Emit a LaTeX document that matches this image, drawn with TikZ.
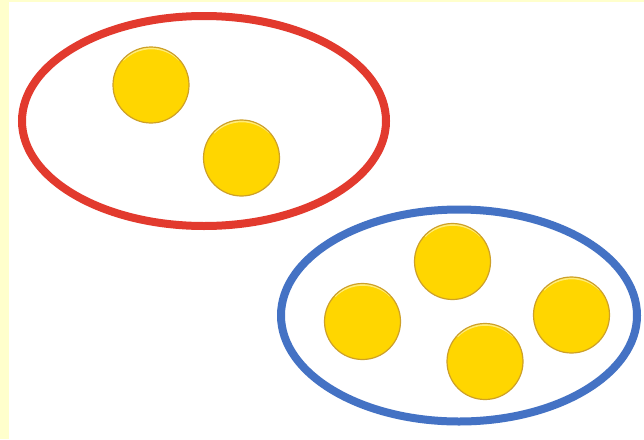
\documentclass[tikz,border=0pt]{standalone}
\definecolor{bgyellow}{RGB}{255,255,204}
\definecolor{ringred}{RGB}{226,58,46}
\definecolor{ringblue}{RGB}{68,114,196}
\definecolor{coinfill}{RGB}{255,214,0}
\definecolor{coinedge}{RGB}{205,160,40}
\definecolor{coinhi}{RGB}{255,236,120}
\tikzset{
  ring/.style={line width=8pt},
  coin/.style={circle, minimum size=76pt, inner sep=0pt, fill=coinfill, draw=coinedge, line width=1.2pt,
    path picture={\draw[coinhi, line width=2pt] ([shift={(0,-3pt)}]path picture bounding box.north) ++(-28pt,-10pt) arc[start angle=135, end angle=45, radius=40pt];}},
}
\begin{document}
\begin{tikzpicture}[x=1pt,y=-1pt]
\fill[bgyellow] (0,0) rectangle (644,439);
\fill[white] (9,2) rectangle (644,439);
\useasboundingbox (0,0) rectangle (644,439);
% red ring
\draw[ring, ringred] (204,121) ellipse [x radius=182, y radius=105];
% blue ring
\draw[ring, ringblue] (459,315.5) ellipse [x radius=178, y radius=106];
% coins in red ring
\node[coin] (r1) at (151,85) {};
\node[coin] (r2) at (241.5,158) {};
% coins in blue ring
\node[coin] (b1) at (452.5,261.5) {};
\node[coin] (b2) at (362.5,321.5) {};
\node[coin] (b3) at (571.5,315) {};
\node[coin] (b4) at (485,361.5) {};
\end{tikzpicture}
\end{document}
